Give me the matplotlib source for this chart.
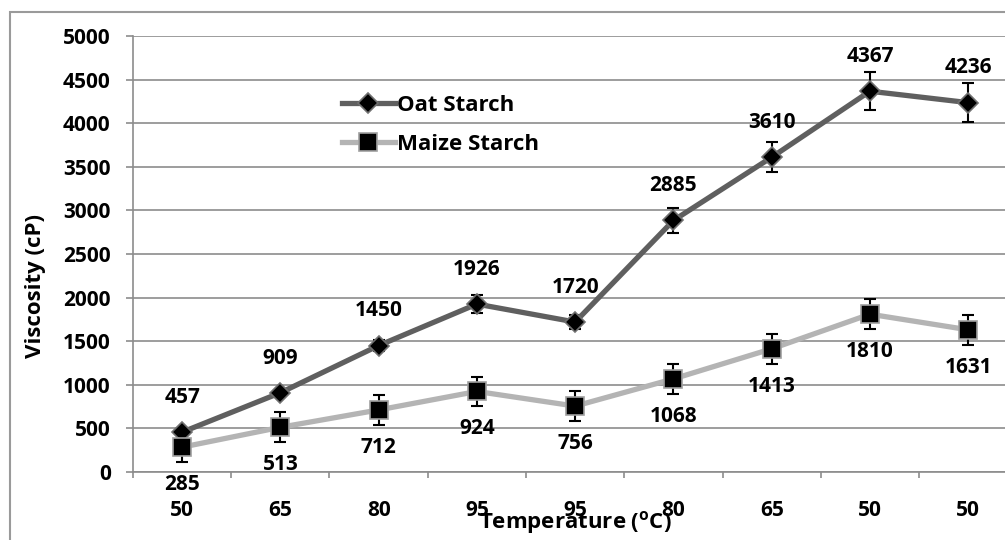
import matplotlib
matplotlib.use("Agg")
import matplotlib.pyplot as plt
from matplotlib.patches import Rectangle
import numpy as np

plt.rcParams['font.family'] = ['Open Sans', 'DejaVu Sans']
plt.rcParams['font.weight'] = 'bold'
plt.rcParams['mathtext.fontset'] = 'custom'
plt.rcParams['mathtext.rm'] = 'Open Sans:bold'
plt.rcParams['mathtext.bf'] = 'Open Sans:bold'

temps = ["50", "65", "80", "95", "95", "80", "65", "50", "50"]
oat = [457, 909, 1450, 1926, 1720, 2885, 3610, 4367, 4236]
oat_err = [30, 35, 60, 100, 80, 146, 175, 220, 225]
maize = [285, 513, 712, 924, 756, 1068, 1413, 1810, 1631]
maize_err = [165, 170, 170, 170, 170, 170, 170, 175, 170]

grid_col = "#8c8c8c"

fig = plt.figure(figsize=(10.05, 5.40), dpi=100)
ax = fig.add_axes([0.1323, 0.1259, 0.880, 0.8074])

x = np.arange(len(temps))

ax.errorbar(x, oat, yerr=oat_err, fmt='none', ecolor='black', elinewidth=1.5,
            capsize=4.5, capthick=1.5, zorder=3)
ax.errorbar(x, maize, yerr=maize_err, fmt='none', ecolor='black', elinewidth=1.5,
            capsize=4.5, capthick=1.5, zorder=3)

l1, = ax.plot(x, oat, color='#5f5f5f', lw=3.8, marker='D', markersize=10.5,
              markerfacecolor='black', markeredgecolor='#707070', markeredgewidth=1.2,
              zorder=4, label='Oat Starch')
l2, = ax.plot(x, maize, color='#b4b4b4', lw=3.8, marker='s', markersize=13.5,
              markerfacecolor='black', markeredgecolor='#a0a0a0', markeredgewidth=1.2,
              zorder=4, label='Maize Starch')

for xi, v in zip(x, oat):
    ax.annotate(str(v), (xi, v), xytext=(0, 25), textcoords='offset points',
                ha='center', va='center', fontsize=15, fontweight='bold')
for xi, v in zip(x, maize):
    ax.annotate(str(v), (xi, v), xytext=(0, -27), textcoords='offset points',
                ha='center', va='center', fontsize=15, fontweight='bold')

ax.set_xlim(-0.5, len(temps) - 0.5)
ax.set_ylim(0, 5000)
ax.set_yticks(np.arange(0, 5001, 500))
ax.set_xticks(x)
ax.set_xticklabels(temps)
ax.set_xticks(np.arange(-0.5, len(temps), 1), minor=True)

ax.grid(axis='y', color=grid_col, lw=1.2)
ax.set_axisbelow(True)
for s in ['top', 'right']:
    ax.spines[s].set_visible(False)
for s in ['left', 'bottom']:
    ax.spines[s].set_color(grid_col)
    ax.spines[s].set_linewidth(1.2)

ax.tick_params(axis='y', length=5, width=1.2, color=grid_col, pad=11, labelsize=15)
ax.tick_params(axis='x', which='major', length=0, pad=20, labelsize=15)
ax.tick_params(axis='x', which='minor', length=4, width=1.2, color=grid_col)
for lab in ax.get_xticklabels() + ax.get_yticklabels():
    lab.set_fontweight('bold')

ax.legend(handles=[l1, l2], loc='upper left', bbox_to_anchor=(0.226, 0.885),
          frameon=False, fontsize=16, handlelength=2.4, handletextpad=0.1,
          labelspacing=0.8, borderaxespad=0)

fig.text(0.035, 0.47, "Viscosity (cP)", rotation=90, ha='center', va='center',
         fontsize=16, fontweight='bold')
fig.text(0.573, 0.033, r"Temperature ($\mathregular{^o}$C)", ha='center', va='center',
         fontsize=16, fontweight='bold')

fig.patches.append(Rectangle((10 / 1005, -0.05), 1.1, (540 - 12) / 540 + 0.05,
                             transform=fig.transFigure, fill=False,
                             edgecolor='#9a9a9a', lw=1.5, zorder=0))

fig.savefig("out.png", dpi=100)
